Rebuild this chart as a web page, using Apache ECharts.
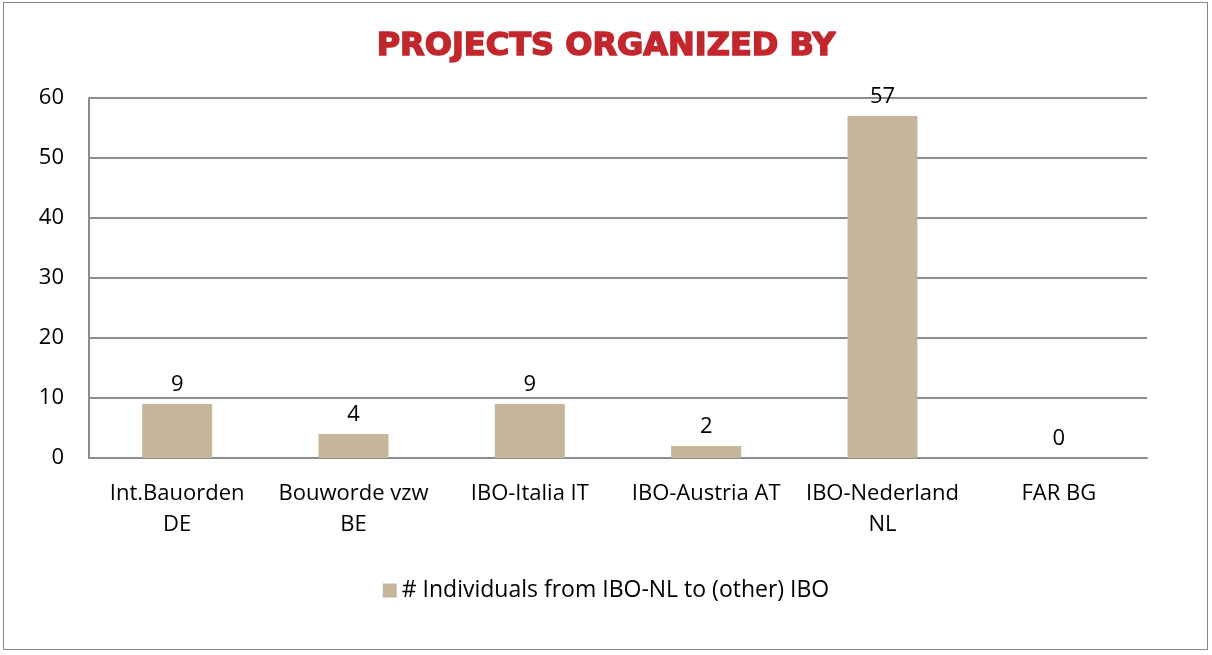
<!DOCTYPE html>
<html><head><meta charset="utf-8">
<script src="https://cdn.jsdelivr.net/npm/echarts@6/dist/echarts.min.js"></script>
<style>
html,body{margin:0;padding:0;background:#fff;}
#frame{position:absolute;left:3px;top:2px;width:1205px;height:648px;border:1.5px solid #898989;box-sizing:border-box;}
#c{position:absolute;left:0;top:0;width:1212px;height:655px;}
</style></head>
<body>
<div id="frame"></div>
<div id="c"></div>
<script>
const categories = ["Int.Bauorden\nDE", "Bouworde vzw\nBE", "IBO-Italia IT", "IBO-Austria AT", "IBO-Nederland\nNL", "FAR BG"];
const values = [9, 4, 9, 2, 57, 0];
const seriesName = "# Individuals from IBO-NL to (other) IBO";
const titleText = "PROJECTS ORGANIZED BY";

const chart = echarts.init(document.getElementById('c'), null, {renderer:'canvas'});
const font = "'Open Sans', 'Noto Sans', sans-serif";
chart.setOption({
  animation:false,
  backgroundColor:'transparent',
  title:{text:titleText,left:'center',top:26,textStyle:{fontFamily:"'DejaVu Sans', sans-serif",fontWeight:900,fontSize:32,color:'#c1272d',textBorderColor:'#c1272d',textBorderWidth:1.5}},
  grid:{left:89,right:65,top:98,bottom:197,containLabel:false},
  legend:{bottom:48,left:'center',itemWidth:14,itemHeight:14,itemGap:6,icon:'rect',
    textStyle:{fontFamily:font,fontSize:23,color:'#000'},data:[seriesName]},
  xAxis:{type:'category',data:categories,
    axisLine:{lineStyle:{color:'#8c8c8c',width:2}},axisTick:{show:false},
    axisLabel:{fontFamily:font,fontSize:22,color:'#000',margin:20,lineHeight:31,interval:0}},
  yAxis:{type:'value',min:0,max:60,interval:10,
    axisLine:{show:true,lineStyle:{color:'#8c8c8c',width:2}},axisTick:{show:false},
    splitLine:{lineStyle:{color:'#8c8c8c',width:2}},
    axisLabel:{fontFamily:font,fontSize:22,color:'#000',margin:25}},
  series:[{name:seriesName,type:'bar',data:values,barWidth:70,
    itemStyle:{color:'#c4b59b'},
    label:{show:true,position:'top',distance:8,fontFamily:font,fontSize:22,color:'#000'}}]
});
</script>
</body></html>
